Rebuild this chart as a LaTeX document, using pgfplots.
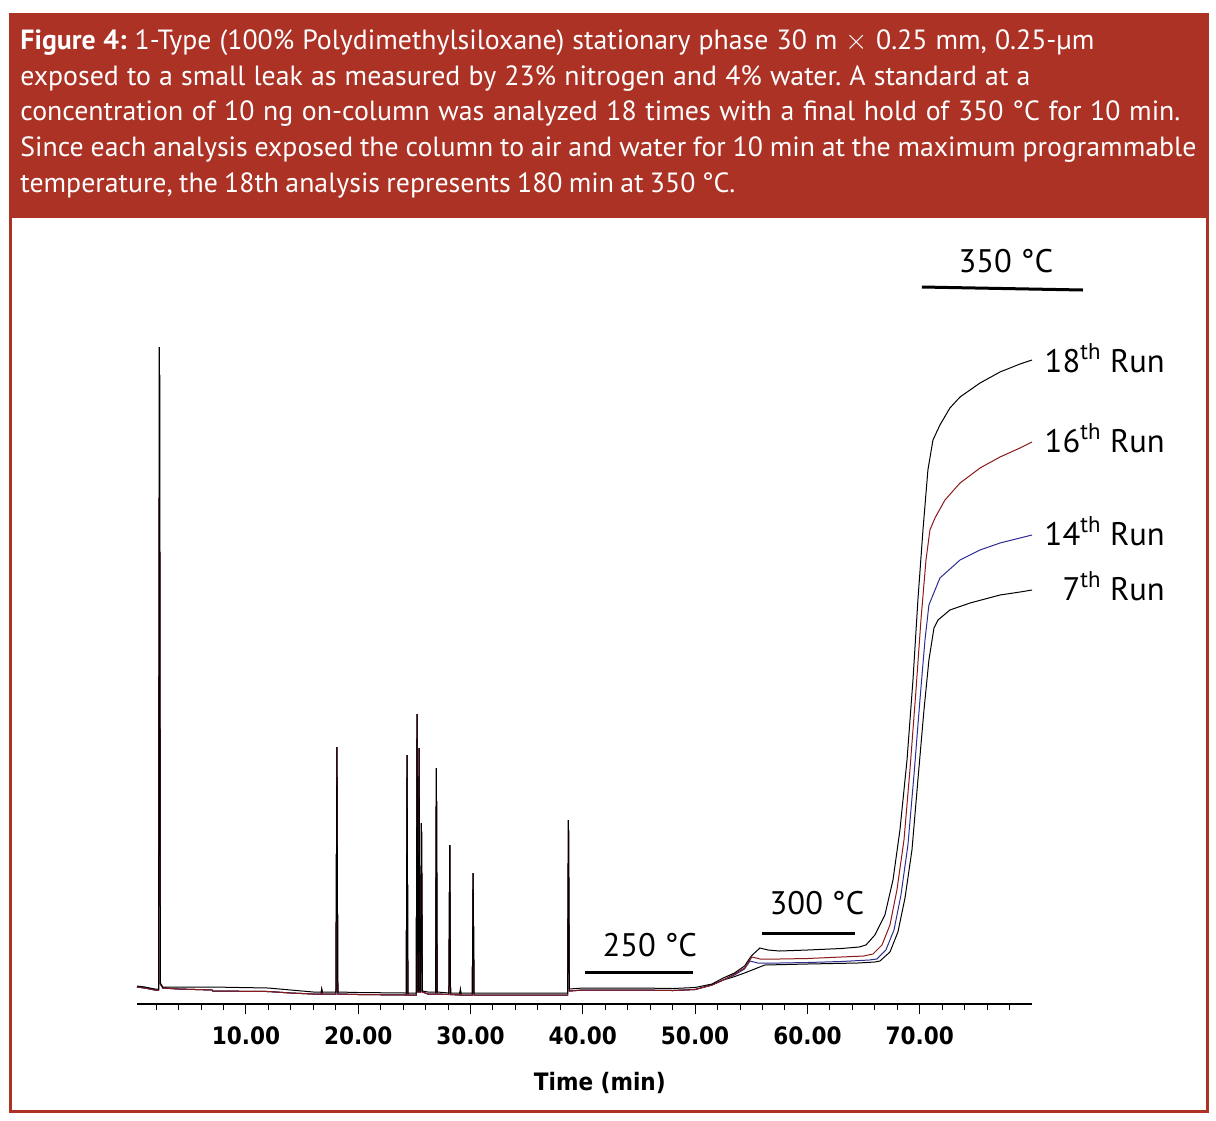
\documentclass[border=0pt]{standalone}
\usepackage{fontspec}
\usepackage{pgfplots}
\pgfplotsset{compat=1.18}
\setmainfont{PT Sans}
\newfontfamily\tickfont{DejaVu Sans Condensed Bold}
\definecolor{figred}{RGB}{171,50,37}
\definecolor{runred}{RGB}{140,25,25}
\definecolor{runblue}{RGB}{45,45,145}
\newcommand{\capfont}{\fontsize{13.9}{17.75}\selectfont}
\newcommand{\lblfont}{\fontsize{16.3}{19}\selectfont}
\newcommand{\tkfont}{\tickfont\fontsize{12}{14}\selectfont}
% one caption line, set to the width it has in the figure
\newcommand{\capline}[2]{\hbox to #1{#2}}
\frenchspacing

\begin{document}
\begin{tikzpicture}
% page is 1216 x 1120 px, one px = 0.5pt
\path[use as bounding box] (0,0) rectangle (608pt,-560pt);
\fill[figred] (4.5pt,-6.5pt) rectangle (604.5pt,-109pt);
\draw[figred, line width=1.5pt] (5.25pt,-7.25pt) rectangle (603.75pt,-555.75pt);

\begin{scope}[every node/.style={anchor=base west, inner sep=0, text=white, font=\capfont}]
\node at (10pt,-24.75pt)
  {\capline{537pt}{\textbf{Figure 4:} 1-Type (100\% Polydimethylsiloxane) stationary phase 30 m $\times$ 0.25 mm, 0.25-µm}};
\node at (10pt,-42.6pt)
  {\capline{505pt}{exposed to a small leak as measured by 23\% nitrogen and 4\% water. A standard at a}};
\node at (10pt,-60.45pt)
  {\capline{580pt}{concentration of 10 ng on-column was analyzed 18 times with a final hold of 350 °C for 10 min.}};
\node at (10pt,-78.3pt)
  {\capline{588pt}{Since each analysis exposed the column to air and water for 10 min at the maximum programmable}};
\node at (10pt,-96.15pt)
  {\capline{357.5pt}{temperature, the 18th analysis represents 180 min at 350 °C.}};
\end{scope}

\begin{axis}[
  at={(68.5pt,-502pt)}, anchor=south west,
  scale only axis, width=447.5pt, height=392pt,
  xmin=0.3, xmax=80, ymin=0, ymax=784,
  axis x line=bottom, axis y line=none,
  axis line style={-, line width=0.6pt},
  xtick={10,20,30,40,50,60,70},
  xticklabels={10.00,20.00,30.00,40.00,50.00,60.00,70.00},
  minor xtick={2,4,6,8,12,14,16,18,22,24,26,28,32,34,36,38,42,44,46,48,52,54,56,58,62,64,66,68,72,74,76,78},
  tick align=outside,
  major tick length=5pt, minor tick length=3pt,
  tick style={black, line width=0.5pt},
  xticklabel style={font=\tkfont, yshift=-3pt},
  clip=false,
  every axis plot/.append style={line width=0.5pt, mark=none},
]

% 7th run
\addplot[black] coordinates {
(0.3,17) (1.0,16) (1.9,14) (2.22,14) (2.30,657) (2.38,20) (2.6,16) (4,15) (7,14) (7.05,13) (12,12.5) (14,11) (16,10)
(16.70,10) (16.75,14) (16.80,10) (18.02,10) (18.10,257) (18.18,10) (20,9.5) (24.28,9) (24.35,249) (24.42,9)
(25.17,9) (25.24,290) (25.31,12) (25.35,12) (25.42,256) (25.49,12) (25.56,12) (25.63,181) (25.72,12) (26.2,10)
(26.89,10) (26.96,236) (27.03,10) (28.08,9.5) (28.15,159) (28.22,9.5) (29.05,9) (29.10,13) (29.15,9)
(30.16,9) (30.23,131) (30.31,9) (34,9) (38.65,9) (38.72,184) (38.80,13) (40,14) (45,14) (48,13.5) (50,14.5)
(51.5,19) (52.5,24) (53.4,27) (54.4,31) (55.3,35) (56.2,39) (60,40) (64.5,41) (66.0,42) (66.46,43) (67.35,52)
(68.06,72) (68.69,106) (69.31,154) (69.84,224) (70.38,294) (70.82,344) (71.27,376) (71.63,384) (72.69,394)
(74.48,401) (77.15,409) (78.93,412) (80,414)
};
% 14th run
\addplot[runblue] coordinates {
(0.3,17) (1.0,16) (1.9,14) (2.22,14) (2.30,657) (2.38,20) (2.6,16) (4,15) (7,14) (7.05,13) (12,12.5) (14,11) (16,10)
(16.70,10) (16.75,14) (16.80,10) (18.02,10) (18.10,257) (18.18,10) (20,9.5) (24.28,9) (24.35,249) (24.42,9)
(25.17,9) (25.24,290) (25.31,12) (25.35,12) (25.42,256) (25.49,12) (25.56,12) (25.63,181) (25.72,12) (26.2,10)
(26.89,10) (26.96,236) (27.03,10) (28.08,9.5) (28.15,159) (28.22,9.5) (29.05,9) (29.10,13) (29.15,9)
(30.16,9) (30.23,131) (30.31,9) (34,9) (38.65,9) (38.72,184) (38.80,13) (40,14) (45,14) (48,13.5) (50,14.5)
(51.5,19) (52.5,24) (53.5,29) (54.4,35) (54.88,43) (55.6,41) (57.5,41) (60,41.5) (63,42.5) (65.5,44) (66.19,45)
(66.99,54) (67.71,74) (68.33,109) (68.95,159) (69.49,229) (70.02,304) (70.47,364) (70.82,399) (71.18,409)
(71.80,426) (73.59,444) (75.37,454) (77.15,461) (78.93,466) (80,469)
};
% 16th run
\addplot[runred] coordinates {
(0.3,17) (1.0,16) (1.9,14) (2.22,14) (2.30,657) (2.38,20) (2.6,16) (4,15) (7,14) (7.05,13) (12,12.5) (14,11) (16,10)
(16.70,10) (16.75,14) (16.80,10) (18.02,10) (18.10,257) (18.18,10) (20,9.5) (24.28,9) (24.35,249) (24.42,9)
(25.17,9) (25.24,290) (25.31,12) (25.35,12) (25.42,256) (25.49,12) (25.56,12) (25.63,181) (25.72,12) (26.2,10)
(26.89,10) (26.96,236) (27.03,10) (28.08,9.5) (28.15,159) (28.22,9.5) (29.05,9) (29.10,13) (29.15,9)
(30.16,9) (30.23,131) (30.31,9) (34,9) (38.65,9) (38.72,184) (38.80,13) (40,14) (45,14) (48,13.5) (50,14.5)
(51.5,19) (52.5,24) (53.5,30) (54.4,36) (55.06,47) (55.8,45) (57.5,45) (60,45.5) (63,47) (65.0,48) (65.84,50)
(66.64,59) (67.35,79) (67.97,114) (68.60,164) (69.13,234) (69.67,314) (70.11,384) (70.56,444) (70.91,474)
(71.36,486) (72.25,504) (73.59,521) (75.37,536) (77.15,547) (78.93,556) (80,562)
};
% 18th run
\addplot[black] coordinates {
(0.3,18) (1.0,17) (1.9,15) (2.22,15) (2.30,657) (2.38,21) (2.6,17) (4,17) (7,17) (12,16) (14,14) (16,12)
(16.70,12) (16.75,15) (16.80,12) (18.02,12) (18.10,257) (18.18,12) (20,11.5) (24.28,11) (24.35,249) (24.42,11)
(25.17,11) (25.24,290) (25.31,13) (25.35,13) (25.42,256) (25.49,13) (25.56,13) (25.63,181) (25.72,13) (26.2,12)
(26.89,12) (26.96,236) (27.03,12) (28.08,11) (28.15,159) (28.22,11) (29.05,11) (29.10,15) (29.15,11)
(30.16,11) (30.23,131) (30.31,11) (34,11) (38.65,11) (38.72,184) (38.80,15) (40,16) (45,16) (48,15.5) (50,16.5)
(51.5,20) (52.5,26) (53.5,31) (54.4,38) (55.0,48) (55.77,56) (56.5,54) (57.5,53) (60,54) (63,55.5) (64.6,57)
(65.21,59) (66.01,69) (66.90,89) (67.62,124) (68.24,174) (68.87,244) (69.40,324) (69.84,404) (70.29,474)
(70.73,534) (71.18,564) (71.80,579) (72.69,596) (73.59,607) (75.37,621) (77.15,632) (78.93,640) (80,644)
};

% temperature holds
\draw[line width=1.5pt] (axis cs:40.18,32) -- (axis cs:49.80,32);
\node[anchor=base, inner sep=0, font=\lblfont] at (axis cs:45.97,48) {250 °C};
\draw[line width=1.5pt] (axis cs:55.95,71) -- (axis cs:64.23,71);
\node[anchor=base, inner sep=0, font=\lblfont] at (axis cs:60.85,90) {300 °C};
\draw[line width=1.5pt] (axis cs:70.20,717) -- (axis cs:84.54,714);
\node[anchor=base, inner sep=0, font=\lblfont] at (axis cs:77.68,732) {350 °C};

% run labels
\node[anchor=base east, inner sep=0, font=\lblfont] at (axis cs:91.85,632) {18\textsuperscript{th} Run};
\node[anchor=base east, inner sep=0, font=\lblfont] at (axis cs:91.85,552) {16\textsuperscript{th} Run};
\node[anchor=base east, inner sep=0, font=\lblfont] at (axis cs:91.85,459) {14\textsuperscript{th} Run};
\node[anchor=base east, inner sep=0, font=\lblfont] at (axis cs:91.85,404) {7\textsuperscript{th} Run};

\node[anchor=base, font=\tkfont] at (axis cs:41.51,-86) {Time (min)};
\end{axis}
\end{tikzpicture}
\end{document}
